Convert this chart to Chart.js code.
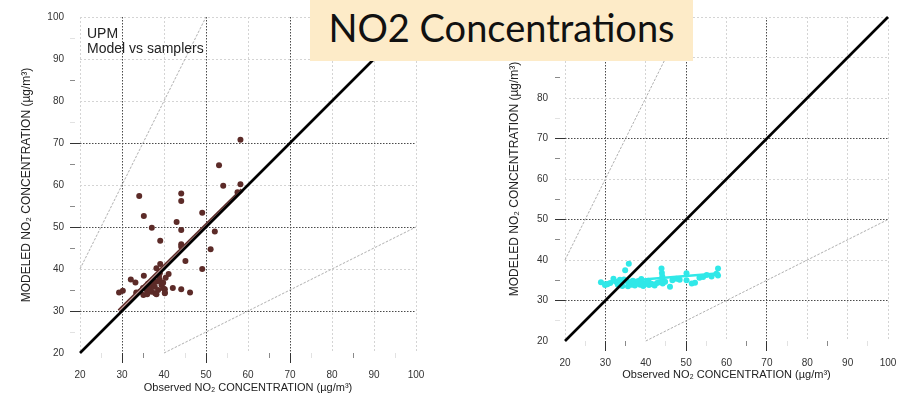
<!DOCTYPE html>
<html>
<head>
<meta charset="utf-8">
<script src="https://cdn.jsdelivr.net/npm/chart.js@4.4.1/dist/chart.umd.min.js"></script>
<style>
  html, body { margin: 0; padding: 0; background: #ffffff; }
  #wrap { position: relative; width: 906px; height: 395px; overflow: hidden; background: #fff; }
  .pane { position: absolute; top: 0; width: 453px; height: 395px; }
  #left { left: 0; }
  #right { left: 453px; }
  #banner {
    position: absolute; left: 310px; top: 0; width: 383px; height: 61px;
    background: #FDEBC8; color: #111;
    font-family: Lato, "Open Sans", sans-serif; font-size: 38px;
    line-height: 55px; text-align: center; white-space: nowrap;
  }
</style>
</head>
<body>
<div id="wrap">
  <canvas id="left" class="pane" width="453" height="395"></canvas>
  <canvas id="right" class="pane" width="453" height="395"></canvas>
  <div id="banner">NO2 Concentrations</div>
</div>
<script>
// Axis range and labelled ticks (µg/m³)
const axisMin = 20;
const axisMax = 100;
const majorTicks = [30, 50, 70];

// UPM model vs passive samplers (observed, modeled)
const upmObserved = [
  58.2, 53.1, 54.1, 58.2, 34.1, 44.1, 44.1, 35.2, 49.1, 43.0,
  37.1, 44.1, 52.1, 39.1, 44.1, 44.1, 51.1, 45.1, 49.1, 39.1,
  38.2, 41.1, 35.2, 32.1, 33.2, 29.3, 30.2, 42.1, 44.1, 46.2,
  40.2, 40.2, 57.5, 33.5, 35.1, 35.9, 36.7, 37.5, 38.3, 39.0,
  39.4, 39.8, 40.2, 37.9, 38.6, 37.1, 34.3, 39.0, 39.8, 36.2,
  38.8, 40.4, 36.0, 33.4, 38.2, 36.7, 37.8, 35.0
];
const upmModeled = [
  70.8, 64.7, 59.8, 60.2, 57.4, 58.0, 56.2, 52.6, 53.4, 51.2,
  49.8, 49.3, 48.9, 46.7, 45.9, 45.3, 44.7, 41.9, 40.0, 41.2,
  40.2, 38.8, 38.4, 37.5, 36.8, 34.4, 34.8, 35.5, 35.2, 34.4,
  34.4, 35.2, 58.3, 34.2, 33.8, 35.0, 35.8, 36.6, 37.0, 37.4,
  36.2, 35.4, 34.2, 34.2, 35.0, 34.6, 34.6, 39.0, 36.7, 36.5,
  38.2, 37.9, 34.0, 34.4, 34.0, 35.0, 35.8, 35.5
];
// least-squares fit drawn over the UPM points
const upmFitX = [29.3, 58.6];
const upmFitY = [30.0, 58.8];

// second model vs passive samplers (observed, modeled)
const secondObserved = [
  28.9, 29.9, 30.5, 31.2, 32.0, 32.6, 33.1, 33.8, 34.2, 34.9,
  35.8, 35.2, 35.6, 36.1, 36.5, 36.9, 37.3, 37.8, 38.2, 38.6,
  39.0, 39.4, 39.9, 40.3, 40.8, 41.2, 41.7, 42.2, 42.8, 43.3,
  43.9, 44.0, 44.1, 44.1, 44.2, 44.8, 46.0, 46.6, 47.6, 48.4,
  50.1, 50.1, 51.4, 52.2, 53.3, 54.2, 55.1, 56.3, 57.9, 57.9,
  57.5, 34.6, 36.8, 38.9, 40.6, 33.6
];
const secondModeled = [
  34.5, 33.8, 34.0, 34.3, 35.4, 34.6, 33.9, 34.2, 33.6, 37.5,
  39.1, 34.8, 33.5, 34.1, 33.9, 34.5, 33.7, 34.2, 34.8, 33.9,
  34.3, 33.6, 34.1, 34.6, 33.8, 34.2, 34.0, 33.7, 34.3, 34.5,
  37.9, 36.8, 35.9, 35.0, 34.2, 34.6, 33.4, 35.0, 35.4, 35.1,
  36.7, 35.0, 34.2, 34.4, 35.6, 35.8, 36.3, 35.9, 37.9, 36.2,
  36.6, 35.2, 34.9, 35.3, 34.9, 35.1
];
const secondFitX = [28.6, 58.3];
const secondFitY = [34.3, 36.7];

// reference lines: 1:1 and factor-of-two envelope
const identityX = [20, 100];
const identityY = [20, 100];
const upperEnvX = [20, 50];
const upperEnvY = [40, 100];
const lowerEnvX = [40, 100];
const lowerEnvY = [20, 50];

const xTitle = 'Observed NO\u2082 CONCENTRATION (\u00b5g/m\u00b3)';
const yTitle = 'MODELED NO\u2082 CONCENTRATION (\u00b5g/m\u00b3)';

const pairs = (xs, ys) => xs.map((x, i) => ({ x: x, y: ys[i] }));

function lineSet(xs, ys, color, width, order, dash) {
  return {
    type: 'scatter', data: pairs(xs, ys), showLine: true,
    borderColor: color, backgroundColor: color, borderWidth: width,
    borderDash: dash || [], pointRadius: 0, order: order, clip: false
  };
}

function gridColor(isX) {
  return (ctx) => {
    const v = ctx.tick ? ctx.tick.value : null;
    if (v === null) return 'rgba(0,0,0,0)';
    if (v % 10 !== 0) return 'rgba(0,0,0,0)';
    if (majorTicks.includes(v)) return '#4a4a4a';
    if (!isX && v === axisMin) return 'rgba(0,0,0,0)';
    return '#d4d4d4';
  };
}
function tickColor(isX) {
  const strong = isX ? [35, 65, 85] : [35, 45, 55, 65, 85];
  return (ctx) => {
    const v = ctx.tick ? ctx.tick.value : null;
    if (v === null) return 'rgba(0,0,0,0)';
    if (majorTicks.includes(v)) return '#333333';
    if (v % 10 === 0) return 'rgba(0,0,0,0)';
    if (strong.includes(v)) return '#8a8a8a';
    return '#e2e2e2';
  };
}
const tickDash = (ctx) => {
  const v = ctx.tick ? ctx.tick.value : 0;
  return majorTicks.includes(v) ? [] : [5, 30];
};
const gridDash = (ctx) => {
  const v = ctx.tick ? ctx.tick.value : 0;
  return majorTicks.includes(v) ? [1.5, 1.5] : [2, 2];
};

// free text in the upper-left corner of the plot area
const cornerNote = {
  id: 'cornerNote',
  afterDraw(chart, args, opts) {
    if (!opts.lines) return;
    const c = chart.ctx;
    c.save();
    c.fillStyle = '#222';
    c.font = '14px "Liberation Sans", Arial, sans-serif';
    c.textBaseline = 'alphabetic';
    opts.lines.forEach((t, i) => {
      c.fillText(t, chart.chartArea.left + 7, chart.chartArea.top + 21 + i * 15);
    });
    c.restore();
  }
};

function buildChart(id, g) {
  const datasets = [
    {
      type: 'scatter', data: pairs(g.obs, g.mod),
      backgroundColor: g.pointColor, borderColor: g.pointColor,
      pointRadius: 3, borderWidth: 0, order: 5, clip: false
    },
    lineSet(upperEnvX, upperEnvY, '#9a9a9a', 0.8, 6, [2.5, 1.5]),
    lineSet(lowerEnvX, lowerEnvY, '#9a9a9a', 0.8, 6, [2.5, 1.5]),
    lineSet(identityX, identityY, '#000000', 2.6, 1)
  ];
  g.fitLines.forEach((f, k) => datasets.push(lineSet(g.fitX, g.fitY, f.color, f.width, 3 - k)));

  const tickFont = { family: '"Liberation Sans", Arial, sans-serif', size: 10 };
  const xTitleFont = { family: '"Liberation Sans", Arial, sans-serif', size: 11 };
  const yTitleFont = { family: '"Liberation Sans", Arial, sans-serif', size: 12 };

  return new Chart(document.getElementById(id), {
    type: 'scatter',
    data: { datasets: datasets },
    options: {
      responsive: false, animation: false, devicePixelRatio: 1,
      layout: { padding: { left: 0, top: 17, right: g.padRight, bottom: 0 } },
      plugins: {
        legend: { display: false }, tooltip: { enabled: false },
        cornerNote: { lines: g.note }
      },
      scales: {
        x: {
          type: 'linear', min: axisMin, max: axisMax,
          afterFit: (s) => { s.height = g.xHeight; },
          border: { display: false, dash: gridDash },
          grid: {
            color: gridColor(true), lineWidth: 1, tickLength: 10, tickWidth: 1,
            tickColor: tickColor(true), tickBorderDash: tickDash
          },
          ticks: {
            stepSize: 5, autoSkip: false, maxRotation: 0, padding: g.xTickPad,
            color: '#333', font: tickFont,
            callback: (v) => (v % 10 === 0 ? String(v) : '')
          },
          title: {
            display: true, text: xTitle, color: '#222', font: xTitleFont,
            padding: { top: 0, bottom: g.xTitlePad }
          }
        },
        y: {
          type: 'linear', min: axisMin, max: axisMax,
          afterFit: (s) => { s.width = g.yWidth; },
          border: { display: false, dash: gridDash },
          grid: {
            color: gridColor(false), lineWidth: 1, tickLength: 10, tickWidth: 1,
            tickColor: tickColor(false), tickBorderDash: tickDash
          },
          ticks: {
            stepSize: 5, autoSkip: false, padding: g.yTickPad,
            color: '#333', font: tickFont,
            callback: (v) => (v % 10 === 0 ? String(v) : '')
          },
          title: {
            display: true, text: yTitle, color: '#222', font: yTitleFont,
            padding: { top: g.yTitlePad, bottom: 0 }
          }
        }
      }
    },
    plugins: [cornerNote]
  });
}

buildChart('left', {
  obs: upmObserved, mod: upmModeled, pointColor: '#5C2B28',
  fitX: upmFitX, fitY: upmFitY,
  fitLines: [{ color: '#5C2B28', width: 4 }, { color: '#C9A3A0', width: 1.2 }],
  note: ['UPM', 'Model vs samplers'],
  padRight: 37, xHeight: 42, yWidth: 80,
  xTickPad: 6, yTickPad: 6, xTitlePad: 0, yTitlePad: 19
});

buildChart('right', {
  obs: secondObserved, mod: secondModeled, pointColor: '#30E8E8',
  fitX: secondFitX, fitY: secondFitY,
  fitLines: [{ color: '#30E8E8', width: 2.5 }],
  note: null,
  padRight: 18, xHeight: 54, yWidth: 112,
  xTickPad: 6, yTickPad: 7, xTitlePad: 13, yTitlePad: 54
});
</script>
</body>
</html>
